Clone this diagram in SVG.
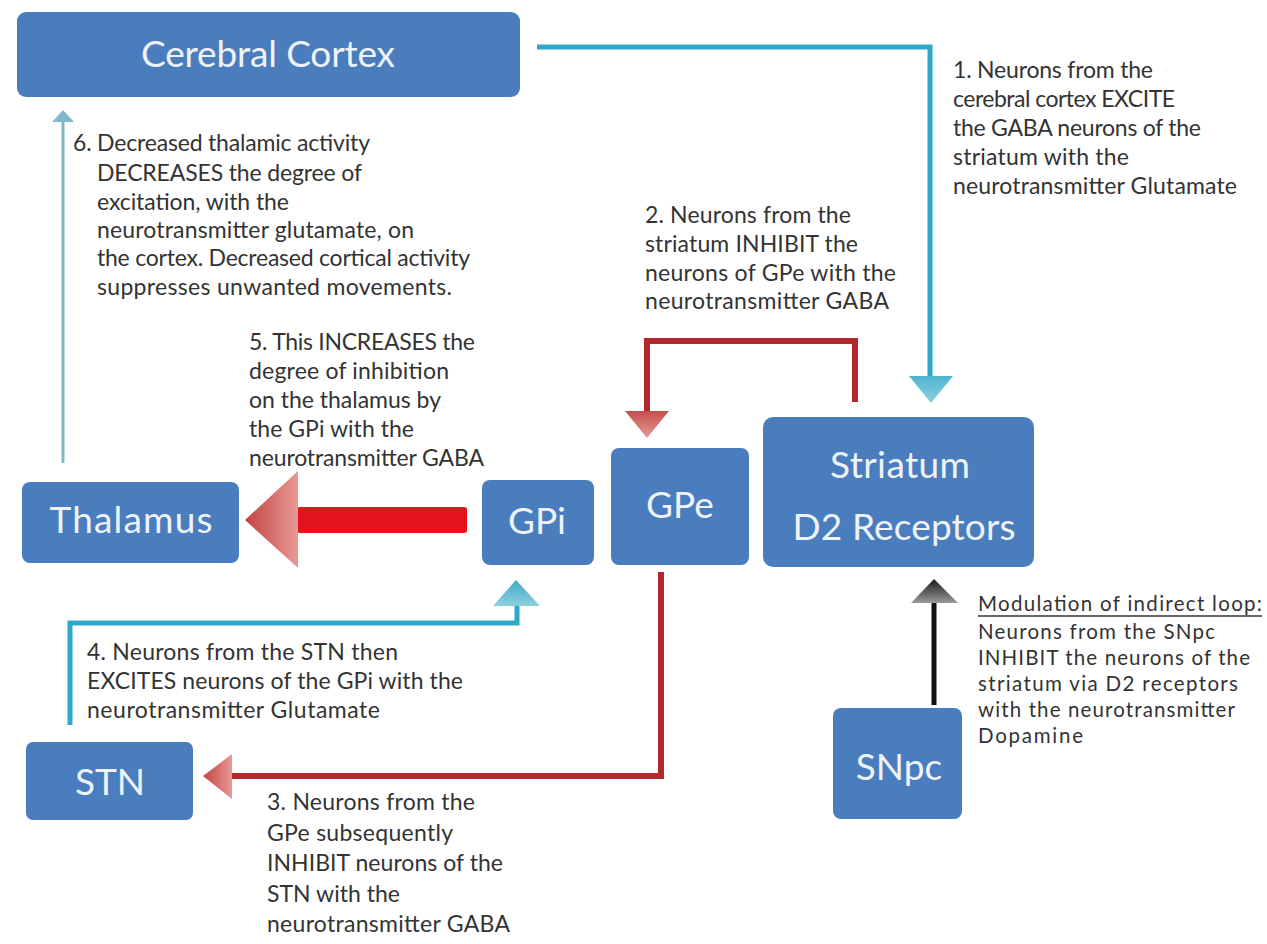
<svg xmlns="http://www.w3.org/2000/svg" width="1267" height="944" viewBox="0 0 1267 944">
<defs>
<style>
.box{fill:#4a7dbd;}
.lbl{font-family:Lato,"Liberation Sans",Arial,sans-serif;font-size:37px;fill:#eef3f9;text-anchor:middle;}
.t{font-family:Lato,"Liberation Sans",Arial,sans-serif;font-size:23px;fill:#333333;}
.m{font-family:Lato,"Liberation Sans",Arial,sans-serif;font-size:20.5px;fill:#333333;}
.cy{fill:none;stroke:#2ea9c9;stroke-width:5;}
.cyl{fill:none;stroke:#7db9c9;stroke-width:3;}
.rd{fill:none;stroke:#b3282c;stroke-width:6;}
.bk{fill:none;stroke:#111;stroke-width:5;}
</style>
<linearGradient id="gCy" x1="0" y1="0" x2="0" y2="1">
<stop offset="0" stop-color="#4fb3cf"/><stop offset="1" stop-color="#8dd0e0"/>
</linearGradient>
<linearGradient id="gCyUp" x1="0" y1="1" x2="0" y2="0">
<stop offset="0" stop-color="#8dd0e0"/><stop offset="1" stop-color="#3fa9c6"/>
</linearGradient>
<linearGradient id="gRd" x1="0" y1="0" x2="0" y2="1">
<stop offset="0" stop-color="#c4504c"/><stop offset="1" stop-color="#e79a98"/>
</linearGradient>
<linearGradient id="gRdL" x1="0" y1="0" x2="1" y2="0">
<stop offset="0" stop-color="#c3423e"/><stop offset="1" stop-color="#e89a98"/>
</linearGradient>
<linearGradient id="gBk" x1="0" y1="1" x2="0" y2="0">
<stop offset="0" stop-color="#9a9a9a"/><stop offset="1" stop-color="#1a1a1a"/>
</linearGradient>
</defs>
<rect width="1267" height="944" fill="#ffffff"/>

<g id="connectors">
<path class="cy" d="M537,47 H930 V378"/>
<polygon points="909,376 953,376 931,403" fill="url(#gCy)"/>
<path class="rd" d="M855,402 V341 H647 V412"/>
<polygon points="625,411 669,411 647,438" fill="url(#gRd)"/>
<rect x="297" y="507" width="170" height="26" rx="3" fill="#e2131b"/>
<polygon points="298,471 298,568 245,520" fill="url(#gRdL)"/>
<path class="cyl" d="M63,463 V118"/>
<polygon points="52,122 74,122 63,110" fill="#7db9c9"/>
<path class="cy" d="M70,725 V623 H517 V605"/>
<polygon points="493,606 540,606 516,580" fill="url(#gCyUp)"/>
<path class="rd" d="M661,572 V776 H232"/>
<polygon points="232,754 232,799 203,776" fill="url(#gRdL)"/>
<path class="bk" d="M934,705 V602"/>
<polygon points="911,603 958,603 934,579" fill="url(#gBk)"/>
</g>

<g id="cortex">
<rect class="box" x="17" y="12" width="503" height="85" rx="9"/>
<text class="lbl" x="268" y="67" textLength="254">Cerebral Cortex</text>
</g>
<g id="thalamus">
<rect class="box" x="22" y="482" width="217" height="81" rx="8"/>
<text class="lbl" x="131" y="533" textLength="163">Thalamus</text>
</g>
<g id="gpi">
<rect class="box" x="482" y="480" width="112" height="85" rx="8"/>
<text class="lbl" x="537" y="534">GPi</text>
</g>
<g id="gpe">
<rect class="box" x="611" y="448" width="138" height="117" rx="8"/>
<text class="lbl" x="680" y="518">GPe</text>
</g>
<g id="striatum">
<rect class="box" x="763" y="417" width="271" height="150" rx="10"/>
<text class="lbl" x="900" y="478" textLength="140">Striatum</text>
<text class="lbl" x="904" y="540" textLength="223">D2 Receptors</text>
</g>
<g id="stn">
<rect class="box" x="26" y="742" width="167" height="78" rx="7"/>
<text class="lbl" x="110" y="795">STN</text>
</g>
<g id="snpc">
<rect class="box" x="833" y="708" width="129" height="111" rx="8"/>
<text class="lbl" x="899" y="780">SNpc</text>
</g>

<g id="label1">
<text class="t" x="953" y="78" textLength="200">1. Neurons from the</text>
<text class="t" x="953" y="107" textLength="222">cerebral cortex EXCITE</text>
<text class="t" x="953" y="136" textLength="248">the GABA neurons of the</text>
<text class="t" x="953" y="165" textLength="176">striatum with the</text>
<text class="t" x="953" y="194" textLength="284">neurotransmitter Glutamate</text>
</g>
<g id="label2">
<text class="t" x="645" y="223" textLength="206">2. Neurons from the</text>
<text class="t" x="645" y="252" textLength="213">striatum INHIBIT the</text>
<text class="t" x="645" y="281" textLength="251">neurons of GPe with the</text>
<text class="t" x="645" y="309" textLength="244">neurotransmitter GABA</text>
</g>
<g id="label6">
<text class="t" x="73" y="151" textLength="297">6. Decreased thalamic activity</text>
<text class="t" x="97" y="181" textLength="265">DECREASES  the degree of</text>
<text class="t" x="97" y="210" textLength="192">excitation, with the</text>
<text class="t" x="97" y="238" textLength="317">neurotransmitter glutamate, on</text>
<text class="t" x="97" y="266" textLength="373">the cortex.  Decreased cortical activity</text>
<text class="t" x="97" y="295" textLength="355">suppresses unwanted  movements.</text>
</g>
<g id="label5">
<text class="t" x="249" y="350" textLength="226">5. This INCREASES the</text>
<text class="t" x="249" y="379" textLength="200">degree of inhibition</text>
<text class="t" x="249" y="408" textLength="192">on the thalamus by</text>
<text class="t" x="249" y="437" textLength="165">the GPi  with the</text>
<text class="t" x="249" y="466" textLength="235">neurotransmitter GABA</text>
</g>
<g id="label4">
<text class="t" x="87" y="660" textLength="311">4. Neurons from the STN then</text>
<text class="t" x="87" y="689" textLength="376">EXCITES neurons of the GPi with the</text>
<text class="t" x="87" y="718" textLength="293">neurotransmitter Glutamate</text>
</g>
<g id="label3">
<text class="t" x="267" y="810" textLength="208">3. Neurons from the</text>
<text class="t" x="267" y="841" textLength="186">GPe subsequently</text>
<text class="t" x="267" y="871" textLength="236">INHIBIT neurons of the</text>
<text class="t" x="267" y="902" textLength="133">STN with the</text>
<text class="t" x="267" y="932" textLength="243">neurotransmitter GABA</text>
</g>
<g id="labelMod">
<text class="m" x="978" y="611" textLength="284">Modulation of indirect loop:</text>
<line x1="978" y1="616" x2="1262" y2="616" stroke="#333333" stroke-width="1.5"/>
<text class="m" x="978" y="639" textLength="237">Neurons from the SNpc</text>
<text class="m" x="978" y="665" textLength="272">INHIBIT  the neurons of the</text>
<text class="m" x="978" y="691" textLength="260">striatum via D2 receptors</text>
<text class="m" x="978" y="717" textLength="257">with the neurotransmitter</text>
<text class="m" x="978" y="743" textLength="105">Dopamine</text>
</g>
</svg>
